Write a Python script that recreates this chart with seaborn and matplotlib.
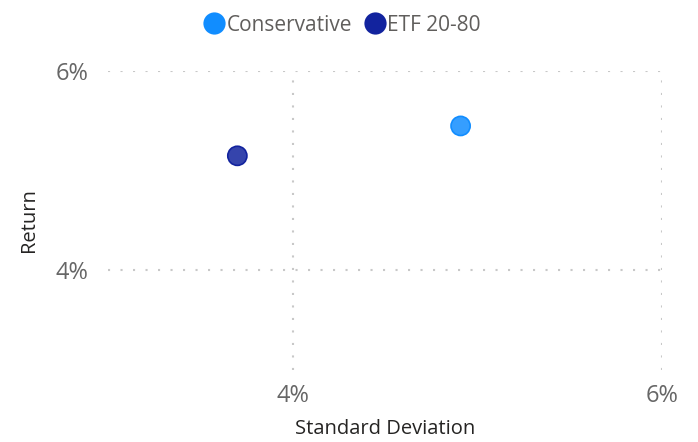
import matplotlib.pyplot as plt
import matplotlib.ticker as mticker
import pandas as pd
import seaborn as sns

# Portfolio risk / return values (percent)
portfolios = ["Conservative", "ETF 20-80"]
std_dev = [4.91, 3.70]
returns = [5.45, 5.15]

COLORS = {"Conservative": "#118DFF", "ETF 20-80": "#12239E"}

df = pd.DataFrame({"portfolio": portfolios, "std": std_dev, "ret": returns})

sns.set_theme(style="white")
plt.rcParams["font.family"] = ["Open Sans", "DejaVu Sans"]

fig = plt.figure(figsize=(6.98, 4.42), dpi=100)
ax = fig.add_axes([0.155, 0.163, 0.793, 0.676])

sns.scatterplot(
    data=df, x="std", y="ret", hue="portfolio", palette=COLORS,
    s=190, alpha=0.85, linewidth=1.2, legend=False, ax=ax
)
# darker rim on each point
for coll in ax.collections:
    coll.set_edgecolor([COLORS[p] for p in portfolios])
    coll.set_alpha(None)
    fc = coll.get_facecolors()
    fc[:, 3] = 0.85
    coll.set_facecolors(fc)

ax.set_xlim(3, 6)
ax.set_ylim(3, 6)
ax.set_xticks([4, 6])
ax.set_yticks([4, 6])
ax.xaxis.set_major_formatter(mticker.FuncFormatter(lambda v, p: f"{v:.0f}%"))
ax.yaxis.set_major_formatter(mticker.FuncFormatter(lambda v, p: f"{v:.0f}%"))

ax.grid(True, color="#c8c8c8", linestyle=(0, (1, 5)), linewidth=1.5)
for sp in ax.spines.values():
    sp.set_visible(False)
ax.tick_params(axis="both", length=0, labelsize=17, labelcolor="#666666")
ax.tick_params(axis="x", pad=10)
ax.tick_params(axis="y", pad=14)

ax.set_xlabel("Standard Deviation", fontsize=14.5, color="#252423", labelpad=8)
ax.set_ylabel("Return", fontsize=14.5, color="#252423", labelpad=12)

# legend at top
handles = [
    plt.Line2D([], [], marker="o", linestyle="", markersize=16,
               markerfacecolor=COLORS[p], markeredgewidth=0, label=p)
    for p in portfolios
]
fig.legend(handles=handles, loc="upper center", bbox_to_anchor=(0.49, 1.0),
           ncol=2, frameon=False, fontsize=15, labelcolor="#605E5C",
           handlelength=1.0, handletextpad=0.1, columnspacing=0.6,
           borderaxespad=0.3)

fig.savefig("out.png", dpi=100)
